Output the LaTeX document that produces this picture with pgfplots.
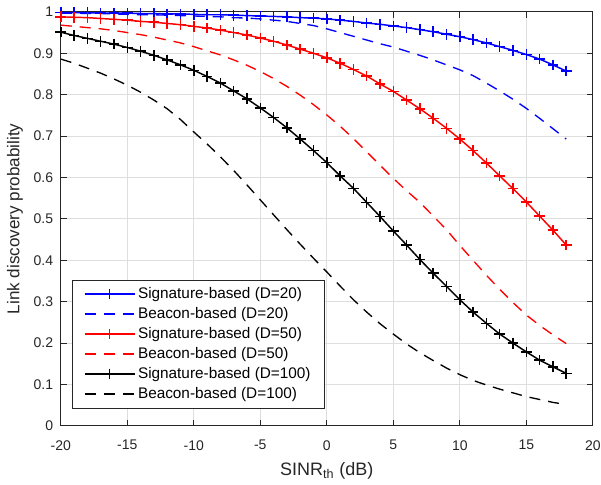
\documentclass[border=0pt]{standalone}
\usepackage{fontspec}
\setmainfont{Liberation Sans}
\usepackage{pgfplots}
\usepackage{pgfplotstable}
\pgfplotsset{compat=1.18}
\definecolor{axgray}{RGB}{38,38,38}
\definecolor{gridgray}{RGB}{222,222,222}

\pgfplotstableread{
x   bs20  bb20  bs50  bb50  bs100 bb100
-20 0.998 0.997 0.988 0.968 0.951 0.886
-19 0.998 0.997 0.987 0.965 0.943 0.876
-18 0.998 0.996 0.986 0.962 0.936 0.864
-17 0.997 0.996 0.984 0.959 0.929 0.852
-16 0.997 0.995 0.982 0.955 0.922 0.838
-15 0.997 0.994 0.980 0.950 0.914 0.823
-14 0.996 0.993 0.977 0.945 0.905 0.806
-13 0.996 0.993 0.975 0.939 0.895 0.787
-12 0.995 0.992 0.972 0.932 0.884 0.766
-11 0.995 0.991 0.969 0.925 0.872 0.740
-10 0.994 0.990 0.965 0.916 0.859 0.710
-9  0.993 0.989 0.961 0.906 0.844 0.681
-8  0.993 0.988 0.956 0.896 0.828 0.650
-7  0.992 0.986 0.950 0.884 0.809 0.617
-6  0.991 0.985 0.944 0.871 0.790 0.582
-5  0.990 0.983 0.937 0.856 0.768 0.546
-4  0.989 0.980 0.929 0.839 0.745 0.510
-3  0.988 0.977 0.920 0.820 0.720 0.474
-2  0.986 0.972 0.910 0.799 0.693 0.439
-1  0.985 0.967 0.900 0.776 0.665 0.405
0   0.983 0.959 0.889 0.751 0.636 0.372
1   0.980 0.950 0.876 0.724 0.604 0.338
2   0.977 0.941 0.861 0.694 0.574 0.305
3   0.973 0.932 0.845 0.662 0.540 0.275
4   0.970 0.923 0.826 0.630 0.506 0.247
5   0.966 0.915 0.808 0.598 0.471 0.222
6   0.962 0.905 0.787 0.568 0.437 0.198
7   0.957 0.895 0.766 0.540 0.402 0.177
8   0.952 0.884 0.743 0.507 0.369 0.158
9   0.946 0.872 0.719 0.474 0.337 0.140
10  0.940 0.860 0.693 0.436 0.305 0.124
11  0.933 0.846 0.665 0.400 0.275 0.110
12  0.925 0.828 0.635 0.364 0.248 0.099
13  0.916 0.809 0.604 0.330 0.222 0.089
14  0.907 0.789 0.573 0.298 0.200 0.080
15  0.897 0.767 0.541 0.268 0.179 0.071
16  0.886 0.743 0.507 0.243 0.159 0.064
17  0.872 0.718 0.473 0.220 0.143 0.057
18  0.857 0.693 0.437 0.199 0.127 0.052
}\data

\begin{document}
\begin{tikzpicture}
\begin{axis}[
  at={(0,0)}, anchor=south west,
  scale only axis, width=399pt, height=310.6pt,
  xmin=-20, xmax=20, ymin=0, ymax=1,
  xtick={-20,-15,-10,-5,0,5,10,15,20},
  ytick={0,0.1,0.2,0.3,0.4,0.5,0.6,0.7,0.8,0.9,1},
  tick align=inside, major tick length=4.5pt,
  grid=major, major grid style={draw=gridgray, line width=0.75pt},
  axis line style={draw=axgray, line width=0.75pt},
  tick style={draw=axgray, line width=0.75pt},
  /pgf/number format/assume math mode=true,
  ticklabel style={font=\fontsize{10.5}{12}\selectfont, text=axgray},
  xticklabel style={inner sep=0pt, anchor=north, yshift=-10.5pt},
  yticklabel style={inner sep=0pt, anchor=east, xshift=-5.6pt},
  xlabel={SINR\textsubscript{th} (dB)},
  ylabel={Link discovery probability},
  xlabel style={at={(axis description cs:0.5,-0.109)}, anchor=center, font=\fontsize{13.5}{15}\selectfont, text=axgray},
  ylabel style={at={(axis description cs:-0.086,0.5)}, anchor=center, font=\fontsize{12.8}{15}\selectfont, text=axgray},
  clip mode=individual,
  legend cell align=left,
  legend style={at={(axis description cs:0.0216,0.0428)}, anchor=south west,
    draw=axgray, fill=white,
    font=\fontsize{11.5}{13}\selectfont,
    row sep=1.2pt, inner xsep=8.5pt, inner ysep=3.5pt},
  legend image code/.code={%
    \draw[#1, mark=none] (0pt,0pt) -- (37.5pt,0pt);
    \path[#1] plot coordinates {(18.75pt,0pt)};},
]
\addplot[draw=blue, line width=1.1pt, mark=+, mark size=4pt, mark options={solid, draw=blue}] table[x=x,y=bs20]{\data};
\addlegendentry{Signature-based (D=20)}
\addplot[draw=blue, line width=1pt, dash pattern=on 8.25pt off 6pt] table[x=x,y=bb20]{\data};
\addlegendentry{Beacon-based (D=20)}
\addplot[draw=red, line width=1.1pt, mark=+, mark size=4pt, mark options={solid, draw=red}] table[x=x,y=bs50]{\data};
\addlegendentry{Signature-based (D=50)}
\addplot[draw=red, line width=1pt, dash pattern=on 8.25pt off 6pt] table[x=x,y=bb50]{\data};
\addlegendentry{Beacon-based (D=50)}
\addplot[draw=black, line width=1.1pt, mark=+, mark size=4pt, mark options={solid, draw=black}] table[x=x,y=bs100]{\data};
\addlegendentry{Signature-based (D=100)}
\addplot[draw=black, line width=1pt, dash pattern=on 8.25pt off 6pt] table[x=x,y=bb100]{\data};
\addlegendentry{Beacon-based (D=100)}
\end{axis}
\pgfresetboundingbox
\useasboundingbox (-45.6pt,-44.25pt) rectangle (405.15pt,319.5pt);
\end{tikzpicture}
\end{document}
